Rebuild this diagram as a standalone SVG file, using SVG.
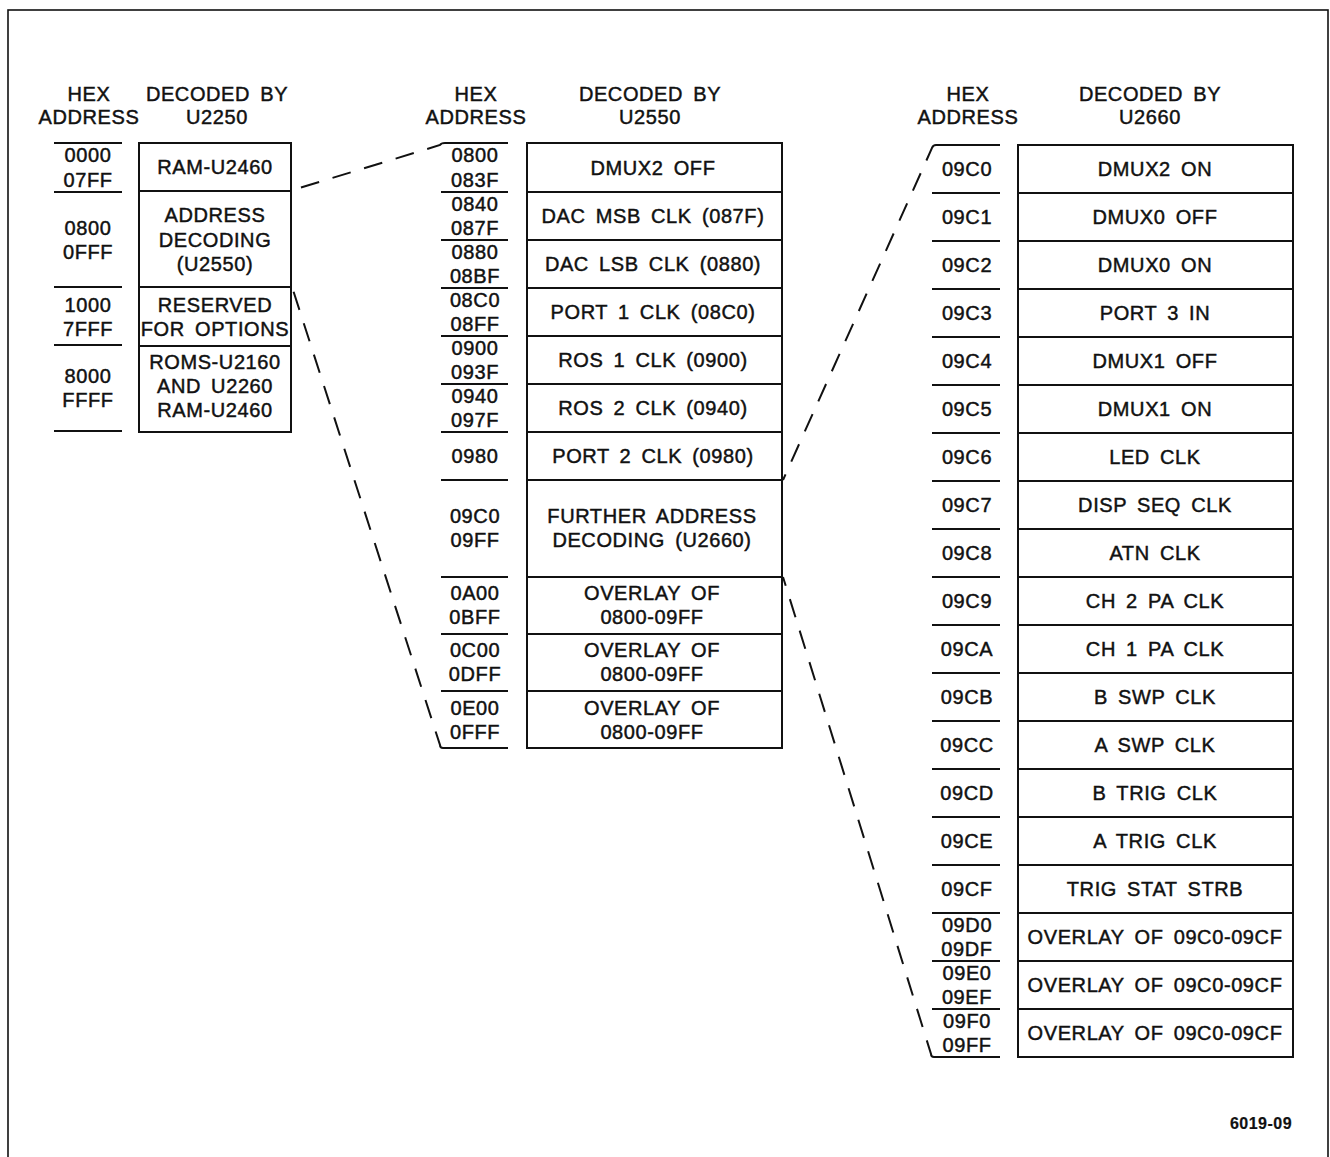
<svg xmlns="http://www.w3.org/2000/svg" width="1330" height="1157" viewBox="0 0 1330 1157">
<style>
text{font-family:"Liberation Sans","DejaVu Sans",sans-serif;font-size:20px;fill:#111;stroke:#111;stroke-width:0.45;text-anchor:middle;letter-spacing:0.6px;word-spacing:4px}
.box{fill:none;stroke:#111;stroke-width:2}
.ln{stroke:#111;stroke-width:2}
.dash{fill:none;stroke:#111;stroke-width:2;stroke-dasharray:19 14}
.small{font-size:16px;font-weight:bold;letter-spacing:0.5px;stroke-width:0.2}
</style>
<rect x="8" y="10" width="1320" height="1170" fill="none" stroke="#111" stroke-width="1.6"/>

<g id="headers">
<text x="89" y="101">HEX</text><text x="89" y="124">ADDRESS</text>
<text x="217" y="101">DECODED BY</text><text x="217" y="124">U2250</text>
<text x="476" y="101">HEX</text><text x="476" y="124">ADDRESS</text>
<text x="650" y="101">DECODED BY</text><text x="650" y="124">U2550</text>
<text x="968" y="101">HEX</text><text x="968" y="124">ADDRESS</text>
<text x="1150" y="101">DECODED BY</text><text x="1150" y="124">U2660</text>
</g>

<g id="map-u2250">
<rect class="box" x="139" y="143" width="152" height="289"/>
<line class="ln" x1="139" y1="191" x2="291" y2="191"/>
<line class="ln" x1="139" y1="287" x2="291" y2="287"/>
<line class="ln" x1="139" y1="346" x2="291" y2="346"/>
<line class="ln" x1="54" y1="143" x2="122" y2="143"/>
<line class="ln" x1="54" y1="192" x2="122" y2="192"/>
<line class="ln" x1="54" y1="287" x2="122" y2="287"/>
<line class="ln" x1="54" y1="345" x2="122" y2="345"/>
<line class="ln" x1="54" y1="431" x2="122" y2="431"/>
<text x="88" y="162">0000</text><text x="88" y="187">07FF</text>
<text x="215" y="174">RAM-U2460</text>
<text x="88" y="235">0800</text><text x="88" y="259">0FFF</text>
<text x="215" y="222">ADDRESS</text><text x="215" y="247">DECODING</text><text x="215" y="271">(U2550)</text>
<text x="88" y="312">1000</text><text x="88" y="336">7FFF</text>
<text x="215" y="312">RESERVED</text><text x="215" y="336">FOR OPTIONS</text>
<text x="88" y="383">8000</text><text x="88" y="407">FFFF</text>
<text x="215" y="369">ROMS-U2160</text><text x="215" y="393">AND U2260</text><text x="215" y="417">RAM-U2460</text>
</g>

<g id="map-u2550">
<rect class="box" x="527" y="143" width="255" height="605"/>
<path class="ln" fill="none" d="M527 192H782M527 240H782M527 288H782M527 336H782M527 384H782M527 432H782M527 480H782M527 577H782M527 634H782M527 691H782"/>
<path class="ln" fill="none" d="M445 143H508M441 192H508M441 240H508M441 288H508M441 336H508M441 384H508M441 432H508M441 480H508M441 577H508M441 634H508M441 691H508M443 748H508"/>
<text x="475" y="162">0800</text><text x="475" y="187">083F</text><text x="653" y="175">DMUX2 OFF</text>
<text x="475" y="211">0840</text><text x="475" y="235">087F</text><text x="653" y="223">DAC MSB CLK  (087F)</text>
<text x="475" y="259">0880</text><text x="475" y="283">08BF</text><text x="653" y="271">DAC LSB CLK  (0880)</text>
<text x="475" y="307">08C0</text><text x="475" y="331">08FF</text><text x="653" y="319">PORT 1 CLK  (08C0)</text>
<text x="475" y="355">0900</text><text x="475" y="379">093F</text><text x="653" y="367">ROS 1 CLK  (0900)</text>
<text x="475" y="403">0940</text><text x="475" y="427">097F</text><text x="653" y="415">ROS 2 CLK  (0940)</text>
<text x="475" y="463">0980</text><text x="653" y="463">PORT 2 CLK  (0980)</text>
<text x="475" y="523">09C0</text><text x="475" y="547">09FF</text>
<text x="652" y="523">FURTHER ADDRESS</text><text x="652" y="547">DECODING  (U2660)</text>
<text x="475" y="600">0A00</text><text x="475" y="624">0BFF</text>
<text x="652" y="600">OVERLAY OF</text><text x="652" y="624">0800-09FF</text>
<text x="475" y="657">0C00</text><text x="475" y="681">0DFF</text>
<text x="652" y="657">OVERLAY OF</text><text x="652" y="681">0800-09FF</text>
<text x="475" y="715">0E00</text><text x="475" y="739">0FFF</text>
<text x="652" y="715">OVERLAY OF</text><text x="652" y="739">0800-09FF</text>
</g>

<g id="map-u2660">
<rect class="box" x="1018" y="145" width="275" height="912"/>
<path class="ln" fill="none" d="M1018 193H1293M1018 241H1293M1018 289H1293M1018 337H1293M1018 385H1293M1018 433H1293M1018 481H1293M1018 529H1293M1018 577H1293M1018 625H1293M1018 673H1293M1018 721H1293M1018 769H1293M1018 817H1293M1018 865H1293M1018 913H1293M1018 961H1293M1018 1009H1293"/>
<path class="ln" fill="none" d="M936 145H1000M932 193H1000M932 241H1000M932 289H1000M932 337H1000M932 385H1000M932 433H1000M932 481H1000M932 529H1000M932 577H1000M932 625H1000M932 673H1000M932 721H1000M932 769H1000M932 817H1000M932 865H1000M932 913H1000M932 961H1000M932 1009H1000M934 1057H1000"/>
<text x="967" y="176">09C0</text><text x="1155" y="176">DMUX2 ON</text>
<text x="967" y="224">09C1</text><text x="1155" y="224">DMUX0 OFF</text>
<text x="967" y="272">09C2</text><text x="1155" y="272">DMUX0 ON</text>
<text x="967" y="320">09C3</text><text x="1155" y="320">PORT 3 IN</text>
<text x="967" y="368">09C4</text><text x="1155" y="368">DMUX1 OFF</text>
<text x="967" y="416">09C5</text><text x="1155" y="416">DMUX1 ON</text>
<text x="967" y="464">09C6</text><text x="1155" y="464">LED CLK</text>
<text x="967" y="512">09C7</text><text x="1155" y="512">DISP SEQ CLK</text>
<text x="967" y="560">09C8</text><text x="1155" y="560">ATN CLK</text>
<text x="967" y="608">09C9</text><text x="1155" y="608">CH 2 PA CLK</text>
<text x="967" y="656">09CA</text><text x="1155" y="656">CH 1 PA CLK</text>
<text x="967" y="704">09CB</text><text x="1155" y="704">B SWP CLK</text>
<text x="967" y="752">09CC</text><text x="1155" y="752">A SWP CLK</text>
<text x="967" y="800">09CD</text><text x="1155" y="800">B TRIG CLK</text>
<text x="967" y="848">09CE</text><text x="1155" y="848">A TRIG CLK</text>
<text x="967" y="896">09CF</text><text x="1155" y="896">TRIG STAT STRB</text>
<text x="967" y="932">09D0</text><text x="967" y="956">09DF</text><text x="1155" y="944">OVERLAY OF 09C0-09CF</text>
<text x="967" y="980">09E0</text><text x="967" y="1004">09EF</text><text x="1155" y="992">OVERLAY OF 09C0-09CF</text>
<text x="967" y="1028">09F0</text><text x="967" y="1052">09FF</text><text x="1155" y="1040">OVERLAY OF 09C0-09CF</text>
</g>

<g id="connectors">
<path class="dash" d="M445 143Q441 143 440 145L293 190"/>
<path class="dash" d="M443 748Q440 748 440 745L293 290"/>
<path class="dash" d="M936 145Q933 145 932 148L783 480"/>
<path class="dash" d="M934 1057Q931 1057 931 1054L783 577"/>
</g>

<text class="small" x="1261" y="1129">6019-09</text>
</svg>
